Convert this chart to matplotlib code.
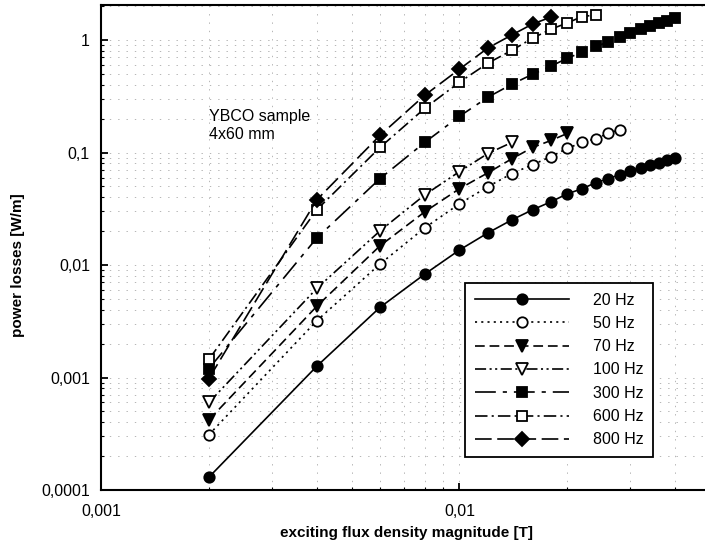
import matplotlib
matplotlib.use('Agg')
from matplotlib import pyplot as plt
from matplotlib.ticker import FixedLocator, FixedFormatter, LogLocator, NullFormatter

plt.rcParams['font.family'] = ['Liberation Sans', 'DejaVu Sans']
plt.rcParams['lines.scale_dashes'] = False

# flux density [T] for each curve
b20 = [0.002, 0.004, 0.006, 0.008, 0.010, 0.012, 0.014, 0.016, 0.018, 0.020,
       0.022, 0.024, 0.026, 0.028, 0.030, 0.032, 0.034, 0.036, 0.038, 0.040]
b50 = [0.002, 0.004, 0.006, 0.008, 0.010, 0.012, 0.014, 0.016, 0.018, 0.020,
       0.022, 0.024, 0.026, 0.028]
b70 = [0.002, 0.004, 0.006, 0.008, 0.010, 0.012, 0.014, 0.016, 0.018, 0.020]
b100 = [0.002, 0.004, 0.006, 0.008, 0.010, 0.012, 0.014]
b300 = b20
b600 = [0.002, 0.004, 0.006, 0.008, 0.010, 0.012, 0.014, 0.016, 0.018, 0.020,
        0.022, 0.024]
b800 = [0.002, 0.004, 0.006, 0.008, 0.010, 0.012, 0.014, 0.016, 0.018]

# power losses [W/m]
p20 = [0.00013, 0.00126, 0.0042, 0.0083, 0.0136, 0.0193, 0.0252, 0.031, 0.0365, 0.043,
       0.0477, 0.054, 0.0586, 0.0636, 0.069, 0.0735, 0.078, 0.0814, 0.0866, 0.090]
p50 = [0.00031, 0.0032, 0.0102, 0.0214, 0.035, 0.0497, 0.065, 0.078, 0.092, 0.109,
       0.123, 0.133, 0.148, 0.160]
p70 = [0.00042, 0.0043, 0.0148, 0.0297, 0.0477, 0.066, 0.088, 0.111, 0.128, 0.148]
p100 = [0.0006, 0.0062, 0.0201, 0.042, 0.0677, 0.098, 0.123]
p300 = [0.0012, 0.0174, 0.0586, 0.123, 0.21, 0.31, 0.405, 0.497, 0.586, 0.69,
        0.78, 0.88, 0.96, 1.06, 1.155, 1.25, 1.33, 1.42, 1.48, 1.57]
p600 = [0.00145, 0.031, 0.111, 0.247, 0.422, 0.623, 0.81, 1.04, 1.25, 1.42,
        1.62, 1.67]
p800 = [0.00098, 0.038, 0.142, 0.323, 0.551, 0.85, 1.11, 1.39, 1.6]

labels = ['20 Hz', '50 Hz', '70 Hz', '100 Hz', '300 Hz', '600 Hz', '800 Hz']

xticks = [0.001, 0.01]
xticklabels = ['0,001', '0,01']
yticks = [0.0001, 0.001, 0.01, 0.1, 1]
yticklabels = ['0,0001', '0,001', '0,01', '0,1', '1']

fig = plt.figure(figsize=(7.05, 5.54), dpi=100)
# axes runs a little past the right edge, as in the scan
ax = fig.add_axes([101/705, 1-490/554, 609/705, 485/554])
ax.set_xscale('log')
ax.set_yscale('log')
ax.set_xlim(0.001, 0.05)
ax.set_ylim(0.0001, 2.05)

ax.grid(which='both', color='0.6', linestyle=(0, (1, 5)), linewidth=0.5)
ax.set_axisbelow(True)

# curve styles: marker, face, linestyle, size
series = [
    (b20, p20, 'o', 'k', '-', 7.5),
    (b50, p50, 'o', 'w', (0, (1.5, 3)), 7.5),
    (b70, p70, 'v', 'k', (0, (7, 3.5)), 8.5),
    (b100, p100, 'v', 'w', (0, (8, 2.5, 1.5, 2.5, 1.5, 2.5)), 8.5),
    (b300, p300, 's', 'k', (0, (15, 5, 3, 5)), 7),
    (b600, p600, 's', 'w', (0, (9, 3, 1.5, 3)), 7),
    (b800, p800, 'D', 'k', (0, (12, 4)), 7),
]
for (b, p, m, fc, ls, ms), lab in zip(series, labels):
    ax.plot(b, p, color='k', linestyle=ls, linewidth=1.2, marker=m,
            markersize=ms, markerfacecolor=fc, markeredgecolor='k',
            markeredgewidth=1.3, label=lab)

ax.xaxis.set_major_locator(FixedLocator(xticks))
ax.xaxis.set_major_formatter(FixedFormatter(xticklabels))
ax.yaxis.set_major_locator(FixedLocator(yticks))
ax.yaxis.set_major_formatter(FixedFormatter(yticklabels))
ax.xaxis.set_minor_locator(LogLocator(base=10, subs=range(2, 10)))
ax.yaxis.set_minor_locator(LogLocator(base=10, subs=range(2, 10)))
ax.xaxis.set_minor_formatter(NullFormatter())
ax.yaxis.set_minor_formatter(NullFormatter())
ax.tick_params(which='major', direction='in', length=5, width=1.3,
               labelsize=11.5, right=False, top=False)
ax.tick_params(which='minor', direction='in', length=2, width=0.8,
               right=False, top=False)
ax.tick_params(axis='x', pad=10)
ax.tick_params(axis='y', pad=8)

for s in ax.spines.values():
    s.set_linewidth(1.5)

ax.text(0.002, 0.175, 'YBCO sample\n4x60 mm', ha='left', va='center',
        fontsize=11.5, linespacing=1.25)

leg = ax.legend(loc='upper left', bbox_to_anchor=(465/705, 1-283/554),
                bbox_transform=fig.transFigure, borderaxespad=0,
                fontsize=11.5, handlelength=5.9, handletextpad=1.5,
                labelspacing=0.52, borderpad=0.6, fancybox=False,
                edgecolor='k', framealpha=1)
leg.get_frame().set_linewidth(1.3)

fig.text(18/705, 1-265/554, 'power losses [W/m]', rotation=90,
         ha='center', va='center', fontsize=11, fontweight='bold')
fig.text(406/705, 1-533/554, 'exciting flux density magnitude [T]',
         ha='center', va='center', fontsize=11, fontweight='bold')

fig.savefig('out.png', dpi=100)
